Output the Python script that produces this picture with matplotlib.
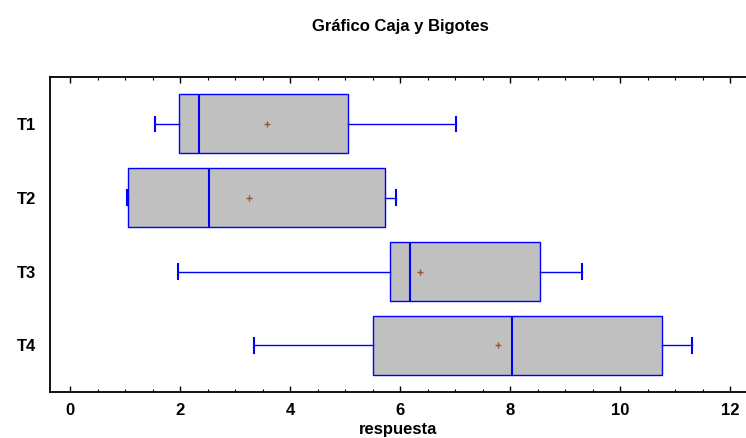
import matplotlib
matplotlib.use("Agg")
import matplotlib.pyplot as plt
from matplotlib.ticker import MultipleLocator

# ---------------------------------------------------------------------------
# Datos (resumen de cada tratamiento)
# ---------------------------------------------------------------------------
GRUPOS = ["T1", "T2", "T3", "T4"]
BIGOTE_MIN = [1.55, 1.03, 1.96, 3.34]
Q1 = [1.98, 1.05, 5.82, 5.50]
MEDIANA = [2.35, 2.53, 6.19, 8.04]
Q3 = [5.05, 5.72, 8.54, 10.77]
BIGOTE_MAX = [7.01, 5.93, 9.30, 11.30]
MEDIA = [3.58, 3.25, 6.36, 7.79]

AZUL = "#0000ff"
GRIS = "#c0c0c0"

plt.rcParams["font.family"] = ["Liberation Sans", "DejaVu Sans"]

stats = []
for g, lo, q1, med, q3, hi, mu in zip(GRUPOS, BIGOTE_MIN, Q1, MEDIANA, Q3, BIGOTE_MAX, MEDIA):
    stats.append({"label": g, "whislo": lo, "q1": q1, "med": med,
                  "q3": q3, "whishi": hi, "mean": mu, "fliers": []})

fig = plt.figure(figsize=(7.46, 4.38), dpi=100)
ax = fig.add_axes([50 / 746, 46 / 438, 696 / 746, 315 / 438])

ax.bxp(stats, positions=range(1, len(GRUPOS) + 1), orientation="horizontal",
       widths=0.8, capwidths=0.2, patch_artist=True, showmeans=True,
       boxprops={"facecolor": GRIS, "edgecolor": AZUL, "linewidth": 1.0},
       medianprops={"color": AZUL, "linewidth": 1.5},
       whiskerprops={"color": AZUL, "linewidth": 1.0},
       capprops={"color": AZUL, "linewidth": 1.5},
       meanprops={"marker": "+", "markeredgecolor": "#a0522d",
                  "markersize": 4, "markeredgewidth": 1.0})

ax.set_xlim(-0.364, 12.29)
ax.set_ylim(4.63, 0.365)
ax.set_yticks(range(1, len(GRUPOS) + 1))
ax.set_yticklabels(GRUPOS, fontsize=12, fontweight="bold")
ax.tick_params(axis="y", length=0, pad=10)

ax.xaxis.set_major_locator(MultipleLocator(2))
ax.xaxis.set_minor_locator(MultipleLocator(0.5))
ax.tick_params(axis="x", which="both", direction="in", top=True, labelsize=12)
ax.tick_params(axis="x", which="major", length=4.5, width=1.0, pad=8)
ax.tick_params(axis="x", which="minor", length=2.5, width=0.8)
for lbl in ax.get_xticklabels():
    lbl.set_fontweight("bold")

ax.spines["right"].set_visible(False)
for s in ["left", "top", "bottom"]:
    ax.spines[s].set_linewidth(1.3)

ax.set_xlabel("respuesta", fontsize=12, fontweight="bold", labelpad=3)
fig.text(400 / 746, 1 - 27 / 438, "Gráfico Caja y Bigotes", ha="center", va="center",
         fontsize=12, fontweight="bold")

fig.savefig("out.png", dpi=100)
